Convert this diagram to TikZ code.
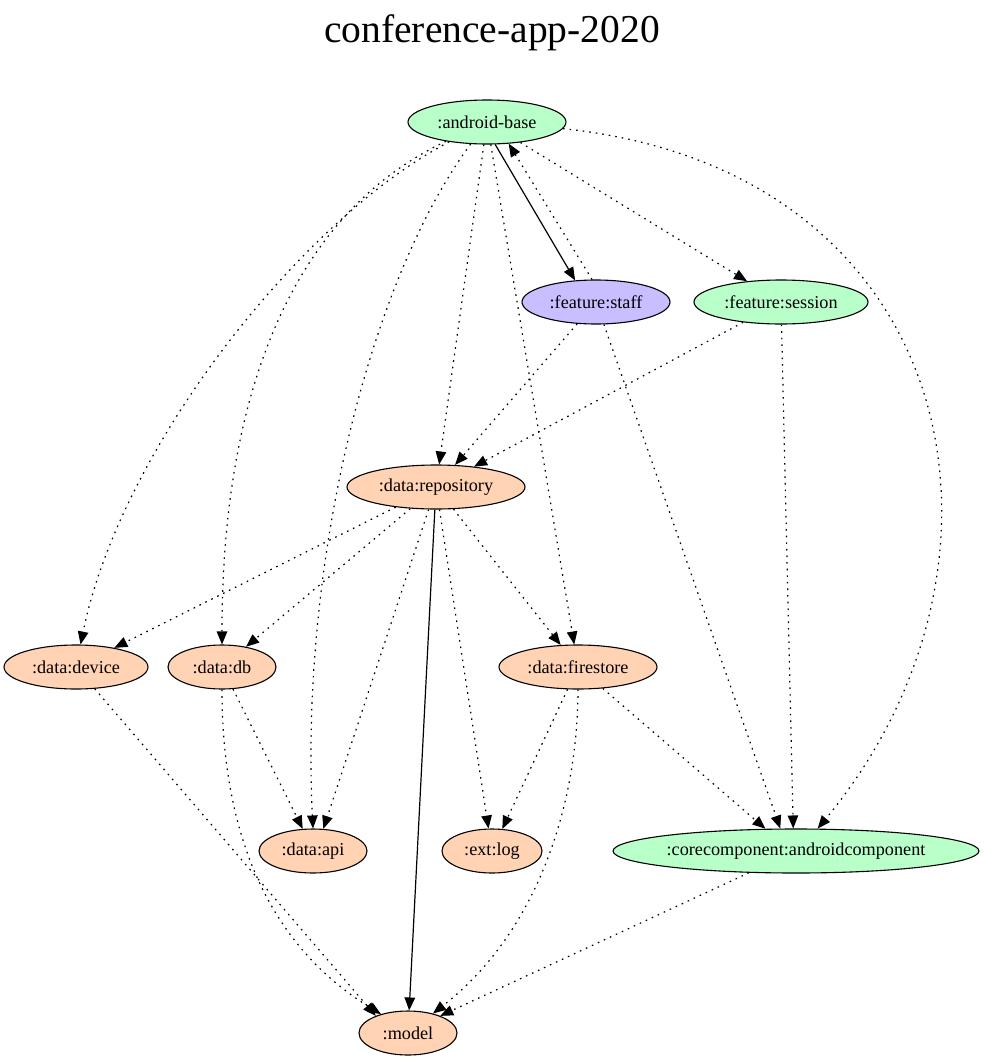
\documentclass[tikz,border=0pt]{standalone}
\usepackage{fontspec}
\setmainfont{Liberation Serif}
\usepackage{tikz,xcolor}
\usetikzlibrary{shapes.geometric, arrows.meta}

\definecolor{androidgreen}{HTML}{B9FFC9}
\definecolor{featurepurple}{HTML}{C9BEFF}
\definecolor{kotlinpeach}{HTML}{FFD3B4}

\begin{document}
\begin{tikzpicture}[x=1pt, y=-1pt,
    module/.style={ellipse, draw, line width=1.1pt, inner sep=0pt, minimum height=44pt,
        font=\fontsize{18.2}{22}\selectfont},
    android/.style={module, fill=androidgreen},
    feature/.style={module, fill=featurepurple},
    kotlin/.style={module, fill=kotlinpeach},
    impl/.style={line width=1.2pt, -{Triangle[length=13pt,width=10.5pt]}},
    dep/.style={impl, dash pattern=on 1.6pt off 5pt}]

    \useasboundingbox (0,0) rectangle (984,1063);

    % Title
    \node[font=\fontsize{39.5}{46}\selectfont] (title) at (492, 33) {conference-app-2020};

    % Modules
    \node[android, minimum width=158pt] (base) at (487, 122) {:android-base};
    \node[feature, minimum width=148pt] (staff) at (596, 302) {:feature:staff};
    \node[android, minimum width=174pt] (session) at (781, 302) {:feature:session};
    \node[kotlin, minimum width=178pt] (repo) at (436, 487) {:data:repository};
    \node[kotlin, minimum width=144pt] (device) at (76, 667) {:data:device};
    \node[kotlin, minimum width=108pt] (db) at (222, 667) {:data:db};
    \node[kotlin, minimum width=158pt] (firestore) at (578, 667) {:data:firestore};
    \node[kotlin, minimum width=108pt] (api) at (313, 851) {:data:api};
    \node[kotlin, minimum width=100pt] (log) at (492, 851) {:ext:log};
    \node[android, minimum width=362pt] (core) at (796, 851) {:corecomponent:androidcomponent};
    \node[kotlin, minimum width=98pt] (model) at (408, 1033) {:model};

    % Dependencies of :android-base
    \draw[impl] (base.-70) -- (staff.134);
    \draw[dep] (base) -- (session);
    \draw[dep] (base.-5) .. controls (960, 170) and (1040, 560) .. (core.46);
    \draw[dep] (base) .. controls (300, 220) and (120, 450) .. (device);
    \draw[dep] (base) .. controls (300, 210) and (222, 380) .. (db);
    \draw[dep] (base) .. controls (370, 280) and (300, 560) .. (api.90);
    \draw[dep] (base) -- (repo);
    \draw[dep] (base) -- (firestore);

    % Dependencies of the features
    \draw[dep] (staff.100) -- (base.-45);
    \draw[dep] (staff) -- (repo);
    \draw[dep] (staff) -- (core.125);
    \draw[dep] (session) -- (repo);
    \draw[dep] (session) -- (core.97);

    % Dependencies of :data:repository
    \draw[dep] (repo) -- (device);
    \draw[dep] (repo) -- (db);
    \draw[dep] (repo) -- (api.65);
    \draw[dep] (repo) -- (log);
    \draw[dep] (repo) -- (firestore);
    \draw[impl] (repo) -- (model);

    % Dependencies of the data modules
    \draw[dep] (device) -- (model.152);
    \draw[dep] (db) -- (api.115);
    \draw[dep] (db) .. controls (222, 820) and (260, 940) .. (model.145);
    \draw[dep] (firestore) -- (log);
    \draw[dep] (firestore) .. controls (578, 800) and (540, 930) .. (model.38);
    \draw[dep] (firestore) -- (core.144);
    \draw[dep] (core) -- (model.28);

\end{tikzpicture}
\end{document}
